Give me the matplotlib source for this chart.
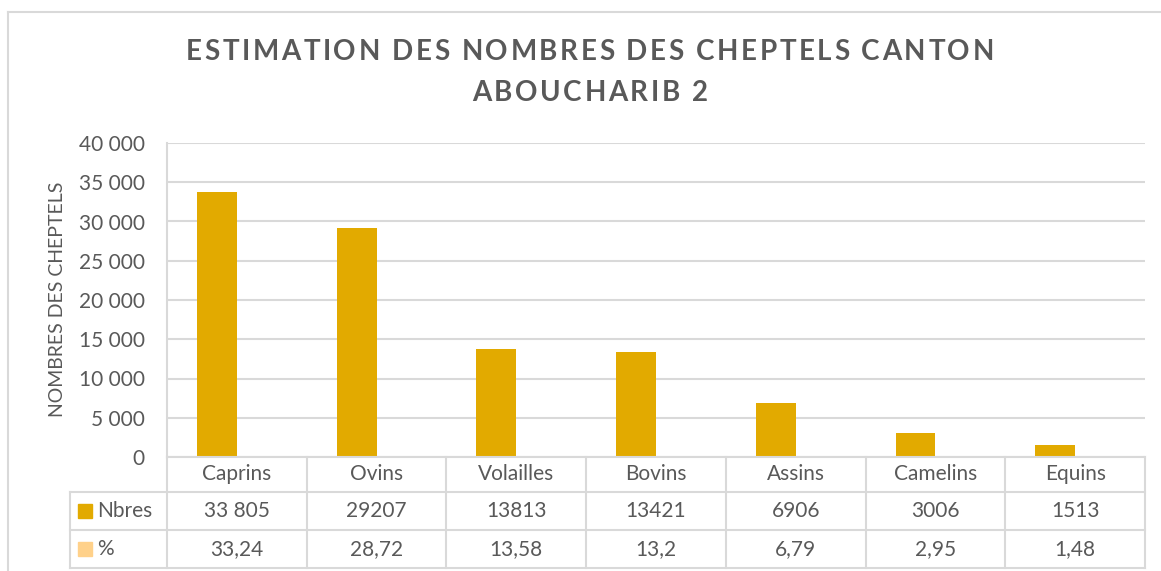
import matplotlib
matplotlib.use("Agg")
import matplotlib.pyplot as plt
from matplotlib.lines import Line2D
from matplotlib.ticker import FuncFormatter

categories = ["Caprins", "Ovins", "Volailles", "Bovins", "Assins", "Camelins", "Equins"]
nbres = [33805, 29207, 13813, 13421, 6906, 3006, 1513]
nbres_labels = ["33 805", "29207", "13813", "13421", "6906", "3006", "1513"]
pct = [33.24, 28.72, 13.58, 13.2, 6.79, 2.95, 1.48]
series_names = ["Nbres", "%"]
title_lines = ["ESTIMATION DES NOMBRES DES CHEPTELS CANTON", "ABOUCHARIB 2"]
ylabel = "NOMBRES DES CHEPTELS"

GOLD = "#E2AA00"
LIGHT = "#FFD18A"
GRID = "#D9D9D9"
TXT = "#595959"
FONT = "Lato"
FS = 15

W, H = 1161, 571
fig = plt.figure(figsize=(W / 100, H / 100), dpi=100)
fig.patch.set_facecolor("white")

def fx(px):
    return px / W

def fy(py):
    return 1 - py / H

left, right, top, bottom = 167, 1145, 143, 457
ax = fig.add_axes([fx(left), fy(bottom), fx(right) - fx(left), fy(top) - fy(bottom)])

n = len(categories)
x = list(range(n))
w = 1 / 3.5
ax.bar([i - w / 2 for i in x], nbres, width=w, color=GOLD, zorder=3)
ax.bar([i + w / 2 for i in x], pct, width=w, color=LIGHT, zorder=3)

ax.set_xlim(-0.5, n - 0.5)
ax.set_ylim(0, 40000)
ax.set_yticks(range(0, 40001, 5000))
ax.yaxis.set_major_formatter(FuncFormatter(lambda v, p: f"{int(v):,}".replace(",", " ")))
ax.tick_params(axis="y", length=0, pad=16, labelsize=FS, labelcolor=TXT)
ax.set_xticks([])
for lbl in ax.get_yticklabels():
    lbl.set_family(FONT)
ax.grid(axis="y", color=GRID, linewidth=1.5, zorder=0)
for s in ["top", "right", "bottom"]:
    ax.spines[s].set_visible(False)
ax.spines["left"].set_color(GRID)
ax.spines["left"].set_linewidth(1.5)
ax.set_facecolor("none")

# y label
fig.text(fx(58), fy(299), ylabel, rotation=90, ha="center", va="center",
         fontsize=14, color=TXT, family=FONT)

# table
row_y = [457, 492, 530, 568]
def hline(y, x0, x1):
    fig.add_artist(Line2D([fx(x0), fx(x1)], [fy(y), fy(y)], color=GRID, lw=1.5))
def vline(xp, y0, y1):
    fig.add_artist(Line2D([fx(xp), fx(xp)], [fy(y0), fy(y1)], color=GRID, lw=1.5))

hline(457, left, right)
hline(492, 70, right)
hline(530, 70, right)
hline(568, 70, right)
vline(70, 492, 568)
cw = (right - left) / n
for i in range(n + 1):
    vline(left + i * cw, 457, 568)

cy = [(row_y[0] + row_y[1]) / 2, (row_y[1] + row_y[2]) / 2, (row_y[2] + row_y[3]) / 2]
pct_labels = [f"{v:g}".replace(".", ",") for v in pct]
for i in range(n):
    cx = left + (i + 0.5) * cw
    fig.text(fx(cx), fy(cy[0]), categories[i], ha="center", va="center", fontsize=FS, color=TXT, family=FONT)
    fig.text(fx(cx), fy(cy[1]), nbres_labels[i], ha="center", va="center", fontsize=FS, color=TXT, family=FONT)
    fig.text(fx(cx), fy(cy[2]), pct_labels[i], ha="center", va="center", fontsize=FS, color=TXT, family=FONT)

for r, (name, col) in enumerate(zip(series_names, [GOLD, LIGHT])):
    yc = cy[r + 1]
    fig.add_artist(plt.Rectangle((fx(78), fy(yc + 7)), fx(14), 14 / H, color=col, transform=fig.transFigure))
    fig.text(fx(97), fy(yc), name, ha="left", va="center", fontsize=FS, color=TXT, family=FONT)

# chart border
fig.add_artist(Line2D([fx(8), fx(8)], [fy(12), 0], color=GRID, lw=1.5))
fig.add_artist(Line2D([fx(8), 1], [fy(12), fy(12)], color=GRID, lw=1.5))

# title with letter spacing
renderer = fig.canvas.get_renderer()
def spaced_text(s, cxp, cyp, spacing_px, **kw):
    def width(sub):
        if not sub:
            return 0.0
        t = fig.text(0, 0, sub, **kw)
        bb = t.get_window_extent(renderer=renderer)
        t.remove()
        return bb.width
    total = width(s) + spacing_px * (len(s) - 1)
    x0 = cxp - total / 2
    for i, ch in enumerate(s):
        if ch == " ":
            continue
        xo = x0 + (width(s[:i]) if i else 0) + spacing_px * i
        fig.text(fx(xo), fy(cyp), ch, ha="left", va="center", **kw)

tkw = dict(fontsize=20, fontweight="bold", color=TXT, family=FONT)
spaced_text(title_lines[0], 590, 52, 2.6, **tkw)
spaced_text(title_lines[1], 590, 93, 2.6, **tkw)

fig.savefig("out.png", dpi=100, facecolor="white")
